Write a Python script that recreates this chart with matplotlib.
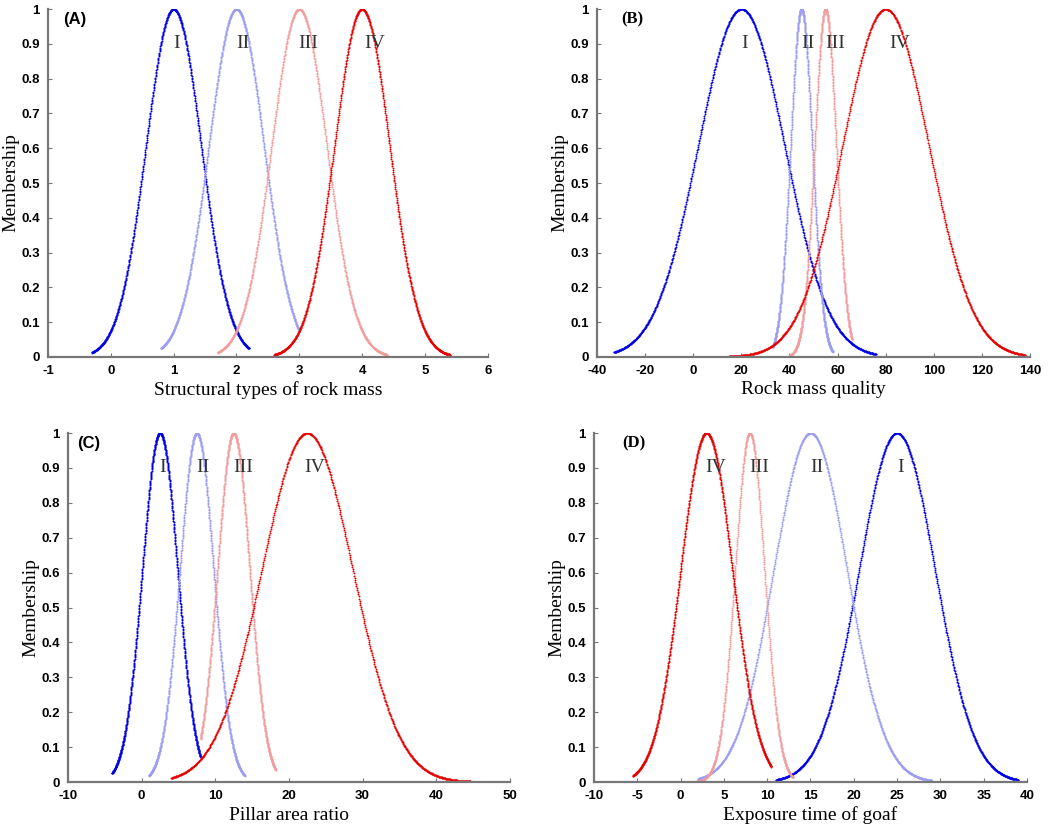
import numpy as np
import matplotlib
matplotlib.use('Agg')
import matplotlib.pyplot as plt

# grade names and colours (I..IV)
grades = ['I', 'II', 'III', 'IV']
colors = ['#0000e6', '#9c9cf2', '#f29c9c', '#e60000']

# (A) structural types of rock mass
a_ex = [1.0, 2.0, 3.0, 4.0]
a_en = [0.44, 0.44, 0.44, 0.44]
a_lo = [-0.3, 0.8, 1.7, 2.6]
a_hi = [2.2, 3.0, 4.4, 5.4]
a_lab_x = [1.05, 2.1, 3.15, 4.2]

# (B) rock mass quality
b_ex = [20, 45, 55, 80]
b_en = [18.0, 4.5, 4.5, 18.0]
b_lo = [-33, 33, 40, 15]
b_hi = [76, 58, 66, 138]
b_lab_x = [21.5, 47.7, 59, 86]

# (C) pillar area ratio
c_ex = [2.5, 7.5, 12.5, 22.5]
c_en = [2.4, 2.3, 2.2, 6.2]
c_lo = [-4, 1, 8, 4]
c_hi = [8, 14, 18.2, 47]
c_lab_x = [2.8, 8.3, 13.75, 23.5]

# (D) exposure time of goaf
d_ex = [25, 15, 8, 3]
d_en = [4.4, 4.25, 1.7, 3.0]
d_lo = [11, 2, 1, -5.5]
d_hi = [39, 29, 13, 10.5]
d_lab_x = [25.45, 15.75, 9.05, 4.1]

panels = [
    ('(A)', a_ex, a_en, a_lo, a_hi, a_lab_x, (-1, 6), np.arange(-1, 7, 1), 'Structural types of rock mass'),
    ('(B)', b_ex, b_en, b_lo, b_hi, b_lab_x, (-40, 140), np.arange(-40, 141, 20), 'Rock mass quality'),
    ('(C)', c_ex, c_en, c_lo, c_hi, c_lab_x, (-10, 50), np.arange(-10, 51, 10), 'Pillar area ratio'),
    ('(D)', d_ex, d_en, d_lo, d_hi, d_lab_x, (-10, 40), np.arange(-10, 41, 5), 'Exposure time of goaf'),
]

rects = [
    [0.0456, 0.571, 0.418, 0.418],
    [0.5675, 0.571, 0.4116, 0.418],
    [0.0646, 0.060, 0.420, 0.4195],
    [0.5646, 0.060, 0.4116, 0.4195],
]
tag_x = [0.034, 0.055, 0.02, 0.065]
tag_font = ['Liberation Sans', 'Liberation Serif', 'Liberation Sans', 'Liberation Serif']

fig = plt.figure(figsize=(10.52, 8.32), dpi=100)

for k, (tag, ex, en, lo, hi, labx, xlim, xt, xlabel) in enumerate(panels):
    ax = fig.add_axes(rects[k])
    for i in range(4):
        x = np.linspace(lo[i], hi[i], 700)
        y = np.exp(-(x - ex[i]) ** 2 / (2 * en[i] ** 2))
        ax.plot(x, y, '.', ms=2.8, color=colors[i], mec='none')
        ax.text(labx[i], 0.9, grades[i], ha='center', va='center',
                family='Liberation Serif', fontsize=14, color='#333333')
    ax.text(tag_x[k], 0.97, tag, transform=ax.transAxes, ha='left', va='center',
            family=tag_font[k], fontsize=12, fontweight='bold')
    ax.set_xlim(*xlim)
    ax.set_ylim(0, 1)
    ax.set_xticks(xt)
    ax.set_xticklabels([str(v) for v in xt])
    yt = np.round(np.arange(0, 1.01, 0.1), 1)
    ax.set_yticks(yt)
    ax.set_yticklabels(['0'] + ['%.1f' % v for v in yt[1:-1]] + ['1'])
    for s in ['top', 'right']:
        ax.spines[s].set_visible(False)
    for s in ['left', 'bottom']:
        ax.spines[s].set_color('#777777')
        ax.spines[s].set_linewidth(1.6)
    ax.tick_params(direction='in', length=3, color='#777777', pad=6)
    for lab in ax.get_xticklabels() + ax.get_yticklabels():
        lab.set_family('Liberation Sans')
        lab.set_fontweight('bold')
        lab.set_fontsize(9.5)
    ax.set_xlabel(xlabel, family='Liberation Serif', fontsize=14, labelpad=3)
    ax.set_ylabel('Membership', family='Liberation Serif', fontsize=14, labelpad=1)

fig.savefig('out.png', dpi=100)
